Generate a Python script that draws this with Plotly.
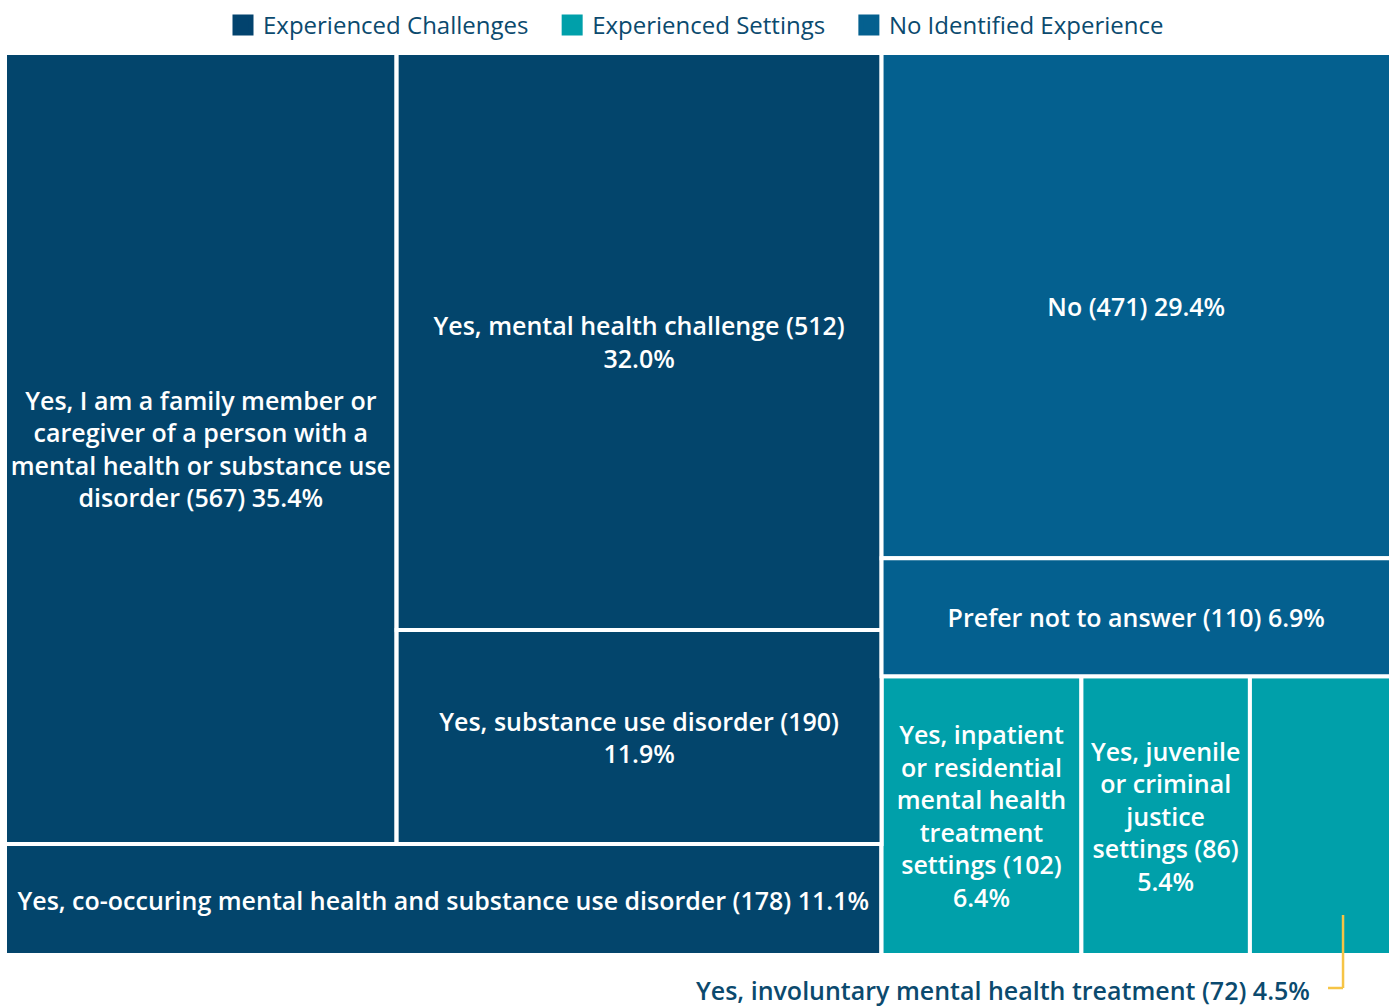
import plotly.graph_objects as go

# ---------------- data ----------------
categories = [
    "Yes, I am a family member or caregiver of a person with a mental health or substance use disorder",
    "Yes, mental health challenge",
    "Yes, substance use disorder",
    "Yes, co-occuring mental health and substance use disorder",
    "No",
    "Prefer not to answer",
    "Yes, inpatient or residential mental health treatment settings",
    "Yes, juvenile or criminal justice settings",
    "Yes, involuntary mental health treatment",
]
counts = [567, 512, 190, 178, 471, 110, 102, 86, 72]
percents = [35.4, 32.0, 11.9, 11.1, 29.4, 6.9, 6.4, 5.4, 4.5]
groups = ["Experienced Challenges"] * 4 + ["No Identified Experience"] * 2 + ["Experienced Settings"] * 3
legend_order = ["Experienced Challenges", "Experienced Settings", "No Identified Experience"]

# wrapped display versions of the category names
display_labels = [
    "Yes, I am a family member or<br>caregiver of a person with a<br>mental health or substance use<br>disorder",
    "Yes, mental health challenge",
    "Yes, substance use disorder",
    "Yes, co-occuring mental health and substance use disorder",
    "No",
    "Prefer not to answer",
    "Yes, inpatient<br>or residential<br>mental health<br>treatment<br>settings",
    "Yes, juvenile<br>or criminal<br>justice<br>settings",
    "Yes, involuntary mental health treatment",
]
value_sep = [" ", "<br>", "<br>", " ", " ", " ", "<br>", "<br>", " "]
outside_label = [False] * 8 + [True]

# ---------------- styles ----------------
group_colors = {
    "Experienced Challenges": "#03456C",
    "Experienced Settings": "#00A0AA",
    "No Identified Experience": "#04608F",
}
legend_colors = {
    "Experienced Challenges": "#02436E",
    "Experienced Settings": "#00A0AA",
    "No Identified Experience": "#04608F",
}
TEXT_DARK = "#0B4A6E"
FONT = "Open Sans"
LEGEND_PAD = "\u00a0" * 3

# ---------------- hierarchy (slice-dice with hidden structural nodes) ----------------
leaf_parent = ["TopBlock", "MidCol", "MidCol", "Challenges", "NoStack", "NoStack",
               "Settings", "Settings", "Settings"]

struct = [
    ("root", "", "white"),
    ("Challenges", "root", group_colors["Experienced Challenges"]),
    ("TopBlock", "Challenges", group_colors["Experienced Challenges"]),
    ("MidCol", "TopBlock", group_colors["Experienced Challenges"]),
    ("Right", "root", "white"),
    ("NoGroup", "Right", group_colors["No Identified Experience"]),
    ("NoStack", "NoGroup", group_colors["No Identified Experience"]),
    ("Settings", "Right", group_colors["Experienced Settings"]),
]

ids, parents, values, colors, texts, labels = [], [], [], [], [], []
order = ["root", "Challenges", "TopBlock", "L0", "MidCol", "L1", "L2", "L3",
         "Right", "NoGroup", "NoStack", "L4", "L5", "Settings", "L6", "L7", "L8"]
struct_map = {s[0]: s for s in struct}
for nid in order:
    if nid in struct_map:
        _, par, col = struct_map[nid]
        ids.append(nid); parents.append(par); values.append(0)
        colors.append(col); texts.append(""); labels.append(nid)
    else:
        i = int(nid[1:])
        ids.append(nid); parents.append(leaf_parent[i]); values.append(counts[i])
        colors.append(group_colors[groups[i]])
        labels.append(categories[i])
        if outside_label[i]:
            texts.append("")
        else:
            texts.append("%s (%d)%s%.1f%%" % (display_labels[i], counts[i], value_sep[i], percents[i]))

fig = go.Figure()
fig.add_trace(go.Treemap(
    ids=ids, parents=parents, values=values, labels=labels, text=texts,
    branchvalues="remainder", sort=False,
    textinfo="text", textposition="middle center",
    textfont=dict(family=FONT, size=25, color="white", weight=600),
    marker=dict(colors=colors, line=dict(color="white", width=4),
                pad=dict(t=0, l=0, r=0, b=0)),
    tiling=dict(packing="slice-dice", pad=0),
    pathbar=dict(visible=False),
    root=dict(color="white"),
    hoverinfo="label+value",
))

# legend entries
for k, g in enumerate(legend_order):
    fig.add_trace(go.Scatter(
        x=[None], y=[None], mode="markers",
        name=g + (LEGEND_PAD if k < len(legend_order) - 1 else ""),
        marker=dict(symbol="square", size=16, color=legend_colors[g],
                    line=dict(color=legend_colors[g], width=6)),
        showlegend=True,
    ))

# ---------------- outside label for the smallest settings tile ----------------
ML, MR, MT, MB = 5, 1, 53, 51
FW, FH = 1392, 1006
W = float(FW - ML - MR)
H = float(FH - MT - MB)
total = sum(counts)
ch_total = sum(c for c, g in zip(counts, groups) if g == "Experienced Challenges")
st_vals = [c for c, g in zip(counts, groups) if g == "Experienced Settings"]
right_frac = 1 - ch_total / total
i72 = 8
x0_72 = ch_total / total + right_frac * sum(st_vals[:-1]) / sum(st_vals)
w_72 = right_frac * st_vals[-1] / sum(st_vals)
lx = x0_72 + 0.66 * w_72
y_top = 40 / H
y_bot = -33 / H
fig.add_shape(type="line", xref="paper", yref="paper", x0=lx, x1=lx, y0=y_top, y1=y_bot,
              line=dict(color="#F6C445", width=2.5))
fig.add_shape(type="line", xref="paper", yref="paper", x0=lx, x1=lx - 15 / W, y0=y_bot, y1=y_bot,
              line=dict(color="#F6C445", width=2.5))
fig.add_annotation(
    xref="paper", yref="paper", x=lx - 31 / W, y=y_bot - 2 / H, xanchor="right", yanchor="middle",
    text="%s (%d) %.1f%%" % (categories[i72], counts[i72], percents[i72]),
    showarrow=False, font=dict(family=FONT, size=25, color=TEXT_DARK, weight=600),
)

fig.update_layout(
    width=FW, height=FH,
    margin=dict(l=ML, r=MR, t=MT, b=MB),
    paper_bgcolor="white", plot_bgcolor="white",
    xaxis=dict(visible=False), yaxis=dict(visible=False),
    legend=dict(orientation="h", x=0.5, xanchor="center", xref="container",
                y=1 - 3 / FH, yanchor="top", yref="container",
                font=dict(family=FONT, size=24, color=TEXT_DARK),
                itemsizing="trace", itemwidth=30, tracegroupgap=0),
    font=dict(family=FONT),
)

fig.write_html("out.html", config={"displayModeBar": False},
               post_script="document.body.style.margin='0px';")
